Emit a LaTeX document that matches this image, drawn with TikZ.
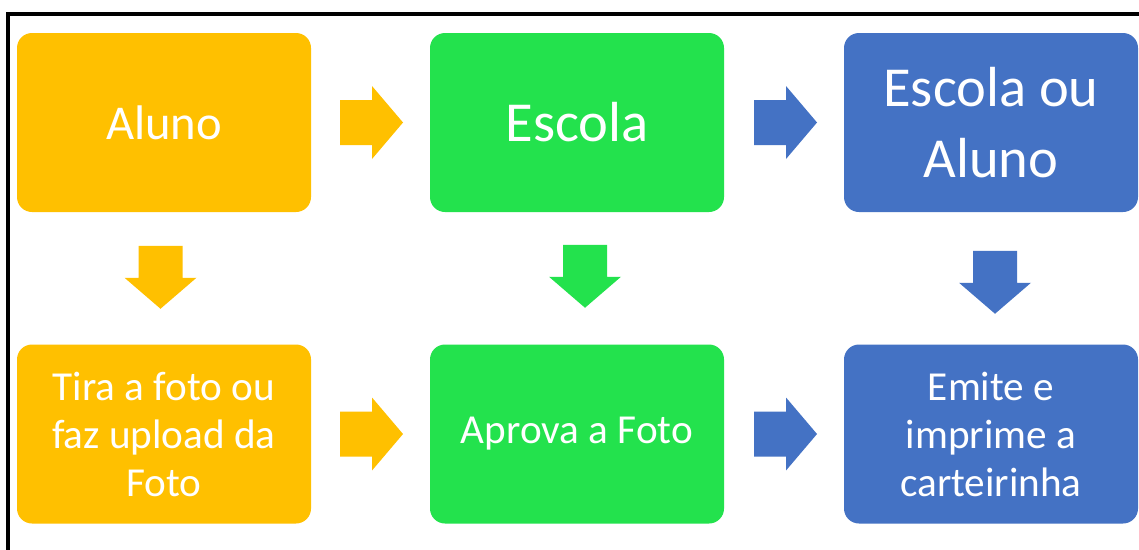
\documentclass[tikz,border=0pt]{standalone}
\usepackage{fontspec}
\setmainfont{Carlito}
\usetikzlibrary{calc}
\definecolor{yel}{RGB}{255,192,0}
\definecolor{grn}{RGB}{35,226,77}
\definecolor{blu}{RGB}{68,114,196}
\tikzset{
  box/.style={rectangle, rounded corners=15pt, minimum width=294pt, minimum height=179pt, inner sep=0pt, text=white, align=center},
  big/.style={font=\fontsize{56.5}{71}\selectfont},
  mid/.style={font=\fontsize{48.6}{58}\selectfont},
  small/.style={font=\fontsize{41.2}{48}\selectfont},
}
\newcommand{\rarr}[2]{\fill[#1] ($(#2)+(-31.5,-22.5)$) -- ($(#2)+(0.5,-22.5)$) -- ($(#2)+(0.5,-36.5)$) -- ($(#2)+(31.5,0)$) -- ($(#2)+(0.5,36.5)$) -- ($(#2)+(0.5,22.5)$) -- ($(#2)+(-31.5,22.5)$) -- cycle;}
\newcommand{\darr}[2]{\fill[#1] ($(#2)+(-22,-31.5)$) -- ($(#2)+(-22,0.5)$) -- ($(#2)+(-36,0.5)$) -- ($(#2)+(0,31.5)$) -- ($(#2)+(36,0.5)$) -- ($(#2)+(22,0.5)$) -- ($(#2)+(22,-31.5)$) -- cycle;}
\begin{document}
\begin{tikzpicture}[x=1pt,y=-1pt]
\useasboundingbox (0,0) rectangle (1139,549);
\fill[white] (0,0) rectangle (1139,549);
% border (top and left)
\draw[line width=4pt] (8,560) -- (8,14) -- (1150,14);
% boxes
\node[box, fill=yel, mid] (b1) at (164,122.5) {Aluno};
\node[box, fill=grn, big] (b2) at (577,122.5) {Escola};
\node[box, fill=blu, big] (b3) at (991,122.5) {Escola ou\\Aluno};
\node[box, fill=yel, small] (b4) at (164,434) {Tira a foto ou\\faz upload da\\Foto};
\node[box, fill=grn, small] (b5) at (577,434) {Aprova a Foto};
\node[box, fill=blu, small] (b6) at (991,434) {Emite e\\imprime a\\carteirinha};
% arrow positions
\coordinate (r12) at ($($(b1.east)!0.5!(b2.west)$)+(1,0)$);
\coordinate (r23) at ($($(b2.east)!0.5!(b3.west)$)+(1.5,0)$);
\coordinate (r45) at ($($(b4.east)!0.5!(b5.west)$)+(1,0)$);
\coordinate (r56) at ($($(b5.east)!0.5!(b6.west)$)+(1.5,0)$);
\coordinate (d14) at ($($(b1.south)!0.5!(b4.north)$)+(-3.5,-1)$);
\coordinate (d25) at ($($(b2.south)!0.5!(b5.north)$)+(8,-2)$);
\coordinate (d36) at ($($(b3.south)!0.5!(b6.north)$)+(4,4)$);
\rarr{yel}{r12}
\rarr{blu}{r23}
\rarr{yel}{r45}
\rarr{blu}{r56}
\darr{yel}{d14}
\darr{grn}{d25}
\darr{blu}{d36}
\end{tikzpicture}
\end{document}
